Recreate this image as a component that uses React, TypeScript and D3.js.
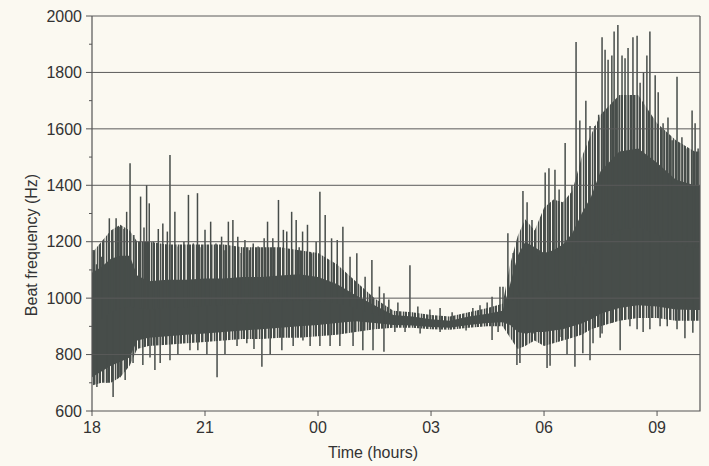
import React, { useEffect, useRef } from "react";
import * as d3 from "d3";

// time in hours since midnight of the first day (24 = 00, 27 = 03 ...)
const bandT = [18.0, 18.25, 18.5, 18.75, 19.0, 19.2, 19.5, 20.0, 20.5, 21.0, 21.5, 22.0, 22.5, 23.0, 23.5, 24.0, 24.5, 25.0, 25.5, 26.0, 26.5, 27.0, 27.5, 28.0, 28.5, 28.9, 29.1, 29.3, 29.5, 29.75, 30.0, 30.25, 30.5, 30.75, 31.0, 31.25, 31.5, 32.0, 32.5, 33.0, 33.5, 34.0, 34.14];
// dense core of the trace
const bandLo = [720, 740, 760, 775, 790, 850, 860, 865, 870, 875, 880, 885, 890, 895, 900, 905, 912, 918, 912, 905, 903, 898, 895, 905, 912, 915, 905, 880, 875, 880, 880, 885, 890, 900, 910, 925, 945, 965, 975, 970, 960, 958, 958];
const bandHi = [1090, 1110, 1140, 1150, 1150, 1080, 1060, 1065, 1065, 1070, 1070, 1075, 1075, 1080, 1085, 1075, 1050, 1010, 975, 940, 935, 925, 920, 935, 945, 955, 1050, 1150, 1200, 1180, 1160, 1170, 1190, 1230, 1300, 1360, 1450, 1520, 1530, 1480, 1420, 1400, 1400];
// outer fringe where spikes are packed closely
const fringeLo = [690, 700, 700, 720, 760, 820, 830, 835, 840, 845, 850, 855, 855, 860, 860, 865, 870, 880, 890, 895, 895, 890, 888, 895, 900, 900, 860, 820, 830, 850, 830, 840, 850, 860, 870, 890, 900, 920, 930, 930, 920, 920, 920];
const fringeHi = [1160, 1200, 1240, 1260, 1240, 1200, 1200, 1190, 1190, 1190, 1190, 1180, 1180, 1180, 1170, 1160, 1120, 1060, 1000, 955, 950, 940, 935, 950, 965, 980, 1120, 1220, 1280, 1240, 1320, 1350, 1340, 1380, 1500, 1580, 1650, 1720, 1720, 1620, 1560, 1520, 1520];

const upT = [18.03, 18.12, 18.26, 18.46, 18.55, 18.64, 18.74, 18.85, 18.92, 19.01, 19.11, 19.29, 19.38, 19.45, 19.52, 19.63, 19.76, 19.88, 20.0, 20.07, 20.2, 20.29, 20.44, 20.56, 20.69, 20.8, 20.9, 21.0, 21.15, 21.29, 21.44, 21.53, 21.62, 21.74, 21.87, 21.96, 22.06, 22.18, 22.28, 22.41, 22.57, 22.66, 22.8, 22.95, 23.08, 23.17, 23.3, 23.42, 23.5, 23.59, 23.72, 23.83, 23.95, 24.05, 24.19, 24.36, 24.51, 24.66, 24.85, 25.03, 25.25, 25.43, 25.63, 25.75, 25.88, 26.12, 26.44, 26.65, 26.97, 27.24, 27.56, 28.11, 28.3, 28.49, 28.62, 28.83, 28.91, 29.04, 29.18, 29.34, 29.44, 29.55, 29.68, 29.84, 30.03, 30.13, 30.29, 30.4, 30.56, 30.74, 30.85, 30.95, 31.11, 31.22, 31.35, 31.45, 31.54, 31.62, 31.7, 31.8, 31.86, 31.96, 32.07, 32.15, 32.23, 32.36, 32.47, 32.55, 32.64, 32.73, 32.81, 32.95, 33.03, 33.16, 33.29, 33.4, 33.53, 33.66, 33.8, 33.93, 34.01, 34.09];
const upV = [1171, 1120, 1147, 1283, 1200, 1283, 1253, 1245, 1306, 1478, 1224, 1360, 1250, 1401, 1336, 1200, 1245, 1265, 1236, 1507, 1306, 1183, 1200, 1366, 1194, 1372, 1180, 1242, 1271, 1194, 1218, 1170, 1271, 1277, 1218, 1160, 1206, 1170, 1194, 1183, 1212, 1271, 1212, 1348, 1242, 1236, 1306, 1277, 1180, 1236, 1260, 1159, 1200, 1377, 1295, 1212, 1206, 1253, 1147, 1159, 1076, 1135, 1041, 1017, 995, 985, 1117, 970, 960, 965, 950, 965, 975, 985, 1005, 1040, 1040, 1230, 1160, 1100, 1380, 1340, 1277, 1150, 1445, 1460, 1455, 1385, 1550, 1400, 1908, 1630, 1700, 1610, 1610, 1650, 1925, 1880, 1845, 1860, 1945, 1968, 1860, 1850, 1887, 1925, 1930, 1763, 1800, 1860, 1945, 1790, 1730, 1620, 1640, 1560, 1785, 1570, 1530, 1665, 1620, 1530];

const downT = [18.13, 18.4, 18.56, 18.74, 18.88, 19.09, 19.35, 19.54, 19.67, 19.81, 20.07, 20.28, 20.6, 20.81, 21.05, 21.32, 21.53, 21.85, 22.11, 22.3, 22.51, 22.73, 23.04, 23.34, 23.6, 23.79, 24.05, 24.32, 24.58, 24.93, 25.19, 25.46, 25.75, 26.04, 26.31, 26.71, 27.24, 27.93, 28.62, 28.78, 29.28, 29.36, 29.55, 29.71, 30.08, 30.16, 30.42, 30.61, 30.82, 31.03, 31.22, 31.3, 31.49, 31.54, 31.8, 32.02, 32.28, 32.47, 32.63, 32.81, 33.08, 33.27, 33.53, 33.74, 33.95];
const downV = [685, 700, 650, 720, 710, 770, 763, 790, 745, 770, 780, 800, 815, 815, 800, 720, 800, 830, 840, 820, 757, 800, 815, 830, 850, 830, 830, 830, 830, 830, 815, 815, 810, 880, 880, 875, 880, 885, 852, 880, 763, 770, 875, 875, 752, 760, 862, 800, 757, 805, 780, 840, 860, 875, 912, 815, 900, 890, 880, 890, 900, 900, 890, 858, 877];

const yTicks = [600, 800, 1000, 1200, 1400, 1600, 1800, 2000];
const yMinor = [700, 900, 1100, 1300, 1500, 1700, 1900];
const xTicks = [18, 21, 24, 27, 30, 33];
const xLabels = ["18", "21", "00", "03", "06", "09"];

const App = () => {
  const ref = useRef<SVGSVGElement>(null);

  useEffect(() => {
    document.body.style.margin = "0";
    document.body.style.background = "#fbf9f1";

    const svg = d3.select(ref.current);
    svg.selectAll("*").remove();

    const W = 709;
    const H = 466;
    const margin = { top: 16, right: 9, bottom: 55, left: 92 };
    const ink = "#474d4a";
    const font = "'Liberation Sans', Arial, sans-serif";

    const x = d3.scaleLinear().domain([18, 34.14]).range([margin.left, W - margin.right]);
    const y = d3.scaleLinear().domain([600, 2000]).range([H - margin.bottom, margin.top]);

    svg.append("rect").attr("width", W).attr("height", H).attr("fill", "#fbf9f1");

    // stripe fill for the fringe of packed spikes
    const pat = svg
      .append("defs")
      .append("pattern")
      .attr("id", "spikes")
      .attr("patternUnits", "userSpaceOnUse")
      .attr("width", 9)
      .attr("height", 10);
    [[0, 2], [3, 2.5], [6.8, 1.6]].forEach(([px, pw]) => {
      pat.append("rect").attr("x", px).attr("y", 0).attr("width", pw).attr("height", 10).attr("fill", ink);
    });

    type Row = { t: number; lo: number; hi: number };
    const area = d3
      .area<Row>()
      .x((d) => x(d.t))
      .y0((d) => y(d.lo))
      .y1((d) => y(d.hi));

    // fringe, then dense core
    const fringe = bandT.map((t, i) => ({ t, lo: fringeLo[i], hi: fringeHi[i] }));
    svg.append("path").datum(fringe).attr("d", area).attr("fill", "url(#spikes)");
    const band = bandT.map((t, i) => ({ t, lo: bandLo[i], hi: bandHi[i] }));
    svg.append("path").datum(band).attr("d", area).attr("fill", ink);

    const mid = (t: number) => {
      const i = Math.max(1, Math.min(bandT.length - 1, d3.bisectLeft(bandT, t)));
      const k = (t - bandT[i - 1]) / (bandT[i] - bandT[i - 1]);
      const lo = bandLo[i - 1] + k * (bandLo[i] - bandLo[i - 1]);
      const hi = bandHi[i - 1] + k * (bandHi[i] - bandHi[i - 1]);
      return (lo + hi) / 2;
    };

    // spikes
    const spikes = [
      ...upT.map((t, i) => ({ t, v: upV[i] })),
      ...downT.map((t, i) => ({ t, v: downV[i] })),
    ];
    svg
      .append("g")
      .selectAll("line")
      .data(spikes)
      .enter()
      .append("line")
      .attr("x1", (d) => x(d.t))
      .attr("x2", (d) => x(d.t))
      .attr("y1", (d) => y(mid(d.t)))
      .attr("y2", (d) => y(d.v))
      .attr("stroke", ink)
      .attr("stroke-width", 1.5);

    // grid lines
    svg
      .append("g")
      .selectAll("line")
      .data(yTicks.filter((v) => v > 600))
      .enter()
      .append("line")
      .attr("x1", margin.left)
      .attr("x2", W - margin.right)
      .attr("y1", (d) => y(d))
      .attr("y2", (d) => y(d))
      .attr("stroke", "#5a5a5a")
      .attr("stroke-width", 1);

    // frame
    const x0 = margin.left;
    const x1 = W - margin.right;
    const y0 = H - margin.bottom;
    const y1 = margin.top;
    svg.append("path")
      .attr("d", `M${x0},${y1}V${y0}H${x1}V${y1}`)
      .attr("fill", "none")
      .attr("stroke", "#555")
      .attr("stroke-width", 1.2);

    // y axis ticks and labels
    const gy = svg.append("g");
    gy.selectAll("line.major")
      .data(yTicks)
      .enter()
      .append("line")
      .attr("x1", x0 - 6)
      .attr("x2", x0)
      .attr("y1", (d) => y(d))
      .attr("y2", (d) => y(d))
      .attr("stroke", "#555");
    gy.selectAll("line.minor")
      .data(yMinor)
      .enter()
      .append("line")
      .attr("x1", x0 - 3)
      .attr("x2", x0)
      .attr("y1", (d) => y(d))
      .attr("y2", (d) => y(d))
      .attr("stroke", "#555");
    gy.selectAll("text")
      .data(yTicks)
      .enter()
      .append("text")
      .attr("x", x0 - 10)
      .attr("y", (d) => y(d))
      .attr("dy", "0.36em")
      .attr("text-anchor", "end")
      .attr("font-family", font)
      .attr("font-size", 16)
      .attr("fill", "#333")
      .text((d) => d);

    // x axis ticks and labels
    const gx = svg.append("g");
    gx.selectAll("line")
      .data(xTicks)
      .enter()
      .append("line")
      .attr("x1", (d) => x(d))
      .attr("x2", (d) => x(d))
      .attr("y1", y0)
      .attr("y2", y0 + 5)
      .attr("stroke", "#555");
    gx.selectAll("text")
      .data(xTicks)
      .enter()
      .append("text")
      .attr("x", (d) => x(d))
      .attr("y", y0 + 22)
      .attr("text-anchor", "middle")
      .attr("font-family", font)
      .attr("font-size", 16)
      .attr("fill", "#333")
      .text((d, i) => xLabels[i]);

    svg.append("text")
      .attr("x", 373)
      .attr("y", 458)
      .attr("text-anchor", "middle")
      .attr("font-family", font)
      .attr("font-size", 16)
      .attr("fill", "#333")
      .text("Time (hours)");

    svg.append("text")
      .attr("transform", "translate(37,245) rotate(-90)")
      .attr("text-anchor", "middle")
      .attr("font-family", font)
      .attr("font-size", 16)
      .attr("fill", "#333")
      .text("Beat frequency (Hz)");
  }, []);

  return <svg ref={ref} width={709} height={466} style={{ display: "block" }}></svg>;
};

export default App;
